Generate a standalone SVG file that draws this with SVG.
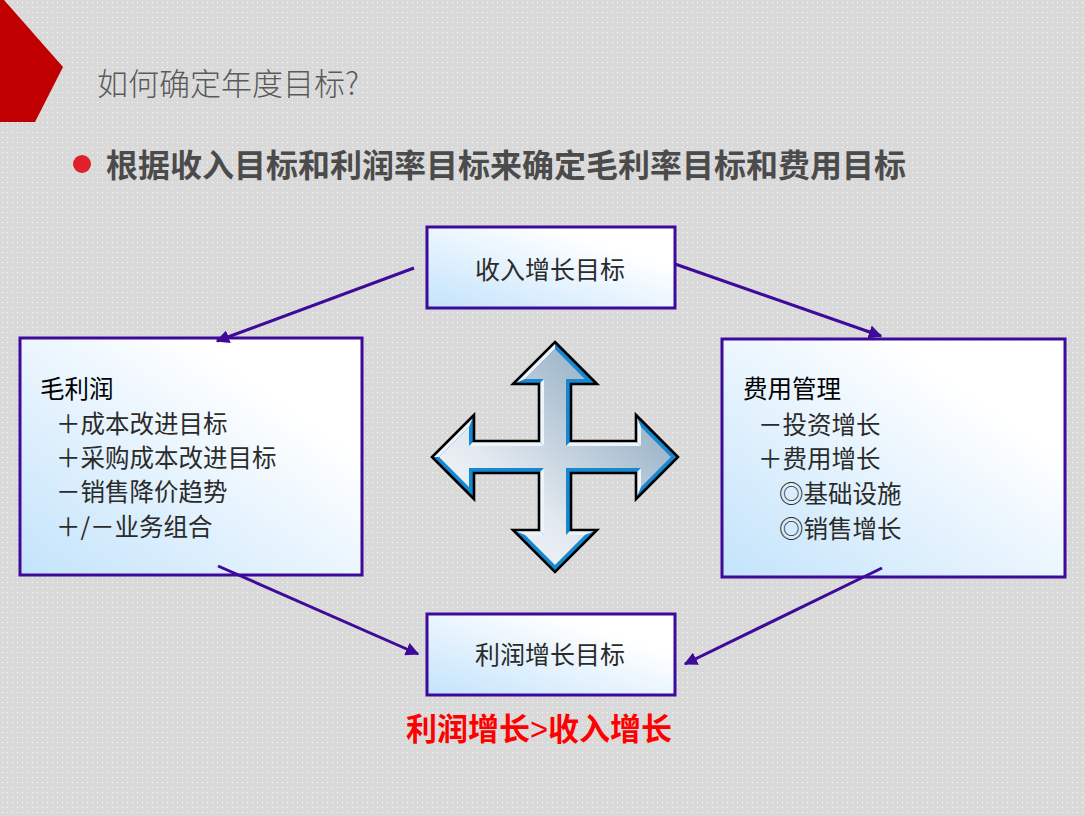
<svg xmlns="http://www.w3.org/2000/svg" width="1085" height="816" viewBox="0 0 1085 816">
<defs>
<pattern id="dots" width="5" height="5" patternUnits="userSpaceOnUse">
<rect width="5" height="5" fill="#d9d9d9"/>
<rect x="2" y="2" width="1" height="1" fill="#ffffff" fill-opacity="0.85"/>
</pattern>
<linearGradient id="boxg" x1="0" y1="1" x2="1" y2="0">
<stop offset="0" stop-color="#c3e3fb"/>
<stop offset="0.75" stop-color="#ffffff"/>
<stop offset="1" stop-color="#ffffff"/>
</linearGradient>
<linearGradient id="crossg" x1="0" y1="1" x2="1" y2="0">
<stop offset="0" stop-color="#ffffff"/>
<stop offset="0.35" stop-color="#e2e9ef"/>
<stop offset="1" stop-color="#7a9bb7"/>
</linearGradient>
<marker id="ah" viewBox="0 0 10 10" refX="9" refY="5" markerWidth="4.5" markerHeight="4.5" orient="auto" markerUnits="strokeWidth">
<path d="M0,0 L10,5 L0,10 Z" fill="#3d0a9a"/>
</marker>
<style>
.box{fill:url(#boxg);stroke:#3d0a9a;stroke-width:3}
.t{font-family:"Noto Sans CJK SC","Noto Sans",sans-serif;fill:#2b2b2b}
.h{font-family:"Noto Sans CJK SC","Noto Sans",sans-serif;fill:#000000}
.conn{stroke:#3d0a9a;stroke-width:3;fill:none;marker-end:url(#ah)}
.lt{fill:#eef4f9}
</style>
</defs>
<rect width="1085" height="816" fill="url(#dots)"/>
<polygon points="0,0 4,0 63,67 35,122 0,122" fill="#c00000"/>
<text x="97" y="95" font-family="'Noto Sans CJK SC','Noto Sans',sans-serif" font-size="31" font-weight="300" fill="#5a5a5a">如何确定年度目标?</text>
<circle cx="82" cy="164" r="9" fill="#e0202a"/>
<text x="106" y="177" font-family="'Noto Sans CJK SC','Noto Sans',sans-serif" font-size="32" font-weight="700" fill="#4b4b4b">根据收入目标和利润率目标来确定毛利率目标和费用目标</text>

<g id="cross">
<polygon points="555,342 597,384 571,384 571,441 636,441 636,415 678,457 636,499 636,473 571,473 571,530 597,530 555,572 513,530 539,530 539,473 474,473 474,499 432,457 474,415 474,441 539,441 539,384 513,384" fill="#1787d2"/>
<polygon class="lt" points="571,441 636,441 641,446 566,446"/>
<polygon class="lt" points="636,441 636,415 641,427.1 641,446"/>
<polygon class="lt" points="636,499 636,473 641,468 641,486.9"/>
<polygon class="lt" points="571,530 597,530 584.9,535 566,535"/>
<polygon class="lt" points="513,530 539,530 544,535 525.1,535"/>
<polygon class="lt" points="539,530 539,473 544,468 544,535"/>
<polygon class="lt" points="432,457 474,415 469,427.1 439.1,457"/>
<polygon class="lt" points="474,441 539,441 544,446 469,446"/>
<polygon class="lt" points="539,441 539,384 544,379 544,446"/>
<polygon class="lt" points="513,384 555,342 555,349.1 525.1,379"/>
<polygon points="555,349.1 584.9,379 566,379 566,446 641,446 641,427.1 670.9,457 641,486.9 641,468 566,468 566,535 584.9,535 555,564.9 525.1,535 544,535 544,468 469,468 469,486.9 439.1,457 469,427.1 469,446 544,446 544,379 525.1,379" fill="url(#crossg)"/>
<polygon points="555,342 597,384 571,384 571,441 636,441 636,415 678,457 636,499 636,473 571,473 571,530 597,530 555,572 513,530 539,530 539,473 474,473 474,499 432,457 474,415 474,441 539,441 539,384 513,384" fill="none" stroke="#000000" stroke-width="2.6" stroke-linejoin="miter"/>
</g>

<g id="node-revenue">
<rect class="box" x="427" y="227" width="248" height="81"/>
<text class="t" x="550" y="279" font-size="25" text-anchor="middle">收入增长目标</text>
</g>
<g id="node-profit-target">
<rect class="box" x="427" y="614" width="248" height="81"/>
<text class="t" x="550" y="664" font-size="25" text-anchor="middle">利润增长目标</text>
</g>
<g id="node-gross">
<rect class="box" x="20" y="338" width="342" height="237"/>
<text class="h" x="40" y="398" font-size="24.5">毛利润</text>
<text class="t" x="56" y="433" font-size="24.5">＋成本改进目标</text>
<text class="t" x="56" y="467" font-size="24.5">＋采购成本改进目标</text>
<text class="t" x="56" y="501" font-size="24.5">－销售降价趋势</text>
<text class="t" x="56" y="536" font-size="24.5">＋/－业务组合</text>
</g>
<g id="node-expense">
<rect class="box" x="722" y="339" width="343" height="238"/>
<text class="h" x="743" y="398" font-size="24.5">费用管理</text>
<text class="t" x="758" y="434" font-size="24.5">－投资增长</text>
<text class="t" x="758" y="468" font-size="24.5">＋费用增长</text>
<text class="t" x="779" y="503" font-size="24.5">◎基础设施</text>
<text class="t" x="779" y="538" font-size="24.5">◎销售增长</text>
</g>

<g id="connectors">
<line class="conn" x1="414" y1="268" x2="217" y2="341"/>
<line class="conn" x1="675" y1="264" x2="881" y2="336"/>
<line class="conn" x1="218" y1="566" x2="418" y2="654"/>
<line class="conn" x1="882" y1="568" x2="685" y2="664"/>
</g>

<text x="539" y="740" font-family="'Noto Sans CJK SC','Noto Sans',sans-serif" font-size="31" font-weight="700" fill="#ff0000" text-anchor="middle">利润增长<tspan font-family="'Liberation Sans',sans-serif" font-weight="400">&gt;</tspan>收入增长</text>
</svg>
